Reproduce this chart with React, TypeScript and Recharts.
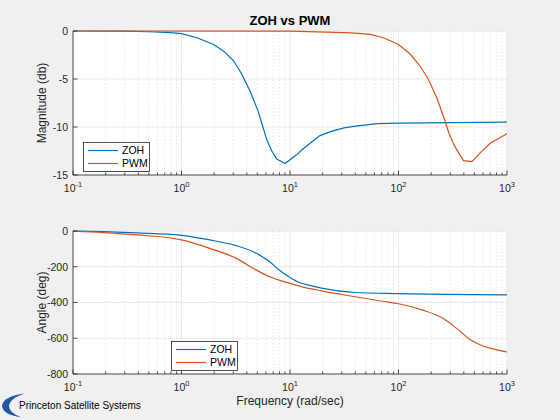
import { LineChart, Line, XAxis, YAxis, CartesianGrid, Legend } from "recharts"

const font = '"Liberation Sans", Arial, Helvetica, sans-serif'
const axisColor = "#262626"
const zohColor = "#0072BD"
const pwmColor = "#D95319"

const seriesNames = ["ZOH", "PWM"]

// x axis: decades and the minor (2..9) ticks
const decades = [0.1, 1, 10, 100, 1000]
const decadeExp = ["-1", "0", "1", "2", "3"]
const minorFreqs = [
  0.2, 0.3, 0.4, 0.5, 0.6, 0.7, 0.8, 0.9,
  2, 3, 4, 5, 6, 7, 8, 9,
  20, 30, 40, 50, 60, 70, 80, 90,
  200, 300, 400, 500, 600, 700, 800, 900,
]
const allFreqTicks = [...decades, ...minorFreqs].sort((a, b) => a - b)

const magTicks = [0, -5, -10, -15]
const phaseTicks = [0, -200, -400, -600, -800]

// magnitude (db)
const zohMagFreq = [0.1, 0.3, 0.5, 0.79, 1, 1.39, 1.98, 2.45, 3.02, 3.6, 4.3, 5.1, 6.1, 6.8, 7.5, 9.0, 11.5, 13, 15.3, 18.9, 24, 31.5, 40, 64, 100, 1000]
const zohMag = [0, -0.02, -0.08, -0.17, -0.28, -0.7, -1.4, -2.1, -3.1, -4.5, -6.3, -8.4, -11.3, -12.5, -13.3, -13.8, -12.9, -12.35, -11.7, -10.9, -10.45, -10.1, -9.9, -9.65, -9.6, -9.5]

const pwmMagFreq = [0.1, 10, 31.5, 40, 54.8, 72.7, 100, 128, 158, 189, 226, 260, 289, 322, 358, 398, 475, 567, 700, 866, 1000]
const pwmMag = [0, -0.02, -0.17, -0.23, -0.35, -0.7, -1.4, -2.4, -3.65, -5.05, -7.0, -8.9, -10.5, -11.8, -12.7, -13.5, -13.6, -12.7, -11.7, -11.1, -10.7]

// phase (deg)
const zohPhaseFreq = [0.1, 0.19, 0.385, 1, 1.82, 3.2, 4.9, 6.5, 8.0, 10, 12.2, 14, 20, 40, 100, 1000]
const zohPhase = [0, -4, -11, -24, -50, -82, -125, -172, -220, -260, -288, -299, -321, -344, -350, -357]

const pwmPhaseFreq = [0.1, 0.19, 0.385, 1, 1.82, 3.2, 4.9, 6.5, 10, 12.2, 20, 40, 71, 100, 168, 259, 345, 456, 600, 795, 1000]
const pwmPhase = [-1, -9, -22, -50, -97, -153, -219, -256, -293, -308, -336, -368, -393, -407, -443, -490, -546, -607, -643, -664, -677]

const toRows = (fs: number[], ys: number[]) => fs.map((f, i) => ({ f, y: ys[i] }))

function BottomTick(props: any) {
  const { x, y, payload } = props
  const i = decades.indexOf(payload.value)
  const major = i >= 0
  return (
    <g>
      <line x1={x} x2={x} y1={y} y2={y - (major ? 4.5 : 2.5)} stroke={axisColor} strokeWidth={0.8} />
      {major && (
        <text x={x} y={y + 17} textAnchor="middle" fill={axisColor} fontSize={10.5} fontFamily={font}>
          10
          <tspan dy={-5} fontSize={7.5}>
            {decadeExp[i]}
          </tspan>
        </text>
      )}
    </g>
  )
}

function TopTick(props: any) {
  const { x, y, payload } = props
  const major = decades.indexOf(payload.value) >= 0
  return <line x1={x} x2={x} y1={y} y2={y + (major ? 4.5 : 2.5)} stroke={axisColor} strokeWidth={0.8} />
}

function LeftTick(props: any) {
  const { x, y, payload } = props
  return (
    <g>
      <line x1={x} x2={x + 4.5} y1={y} y2={y} stroke={axisColor} strokeWidth={0.8} />
      <text x={x - 5} y={y} dy="0.36em" textAnchor="end" fill={axisColor} fontSize={10.5} fontFamily={font}>
        {payload.value}
      </text>
    </g>
  )
}

function RightTick(props: any) {
  const { x, y } = props
  return <line x1={x} x2={x - 4.5} y1={y} y2={y} stroke={axisColor} strokeWidth={0.8} />
}

function LegendBox(props: any) {
  const payload = (props.payload || [])
    .slice()
    .sort((a: any, b: any) => seriesNames.indexOf(a.value) - seriesNames.indexOf(b.value))
  return (
    <svg width={67} height={30} style={{ display: "block" }}>
      <rect x={0.5} y={0.5} width={66} height={29} fill="#fff" stroke={axisColor} strokeWidth={0.8} />
      {payload.map((p: any, i: number) => (
        <g key={i}>
          <line x1={5} x2={35} y1={8.5 + i * 13} y2={8.5 + i * 13} stroke={p.color} strokeWidth={1.2} />
          <text x={39} y={8.5 + i * 13} dy="0.36em" fontSize={10.5} fill="#000" fontFamily={font}>
            {p.value}
          </text>
        </g>
      ))}
    </svg>
  )
}

type PanelProps = {
  top: number
  yDomain: [number, number]
  yTicks: number[]
  zoh: { f: number; y: number }[]
  pwm: { f: number; y: number }[]
  curve: "linear" | "monotone"
  legendLeft: number
  legendTop: number
  xAxisHeight: number
}

function Panel({ top, yDomain, yTicks, zoh, pwm, curve, legendLeft, legendTop, xAxisHeight }: PanelProps) {
  return (
    <div style={{ position: "absolute", left: 0, top, width: 560, height: 200 }}>
      <LineChart width={560} height={200} margin={{ top: 31, right: 53, bottom: 0, left: 0 }}>
        <CartesianGrid
          fill="#fff"
          stroke="#e3e3e3"
          strokeWidth={0.8}
          verticalValues={decades}
          horizontalValues={yTicks}
        />
        <CartesianGrid
          stroke="#d0d0d0"
          strokeWidth={0.7}
          strokeDasharray="1 2.5"
          horizontal={false}
          verticalValues={minorFreqs}
        />
        <XAxis
          dataKey="f"
          type="number"
          scale="log"
          domain={[0.1, 1000]}
          allowDataOverflow
          ticks={allFreqTicks}
          interval={0}
          tick={<BottomTick />}
          tickLine={false}
          tickSize={0}
          tickMargin={0}
          height={xAxisHeight}
          axisLine={{ stroke: axisColor, strokeWidth: 0.8 }}
        />
        <XAxis
          xAxisId="t"
          orientation="top"
          type="number"
          scale="log"
          domain={[0.1, 1000]}
          allowDataOverflow
          ticks={allFreqTicks}
          interval={0}
          tick={<TopTick />}
          tickLine={false}
          tickSize={0}
          tickMargin={0}
          height={0}
          axisLine={{ stroke: axisColor, strokeWidth: 0.8 }}
        />
        <YAxis
          type="number"
          domain={yDomain}
          ticks={yTicks}
          interval={0}
          width={73}
          tick={<LeftTick />}
          tickLine={false}
          tickSize={0}
          tickMargin={0}
          axisLine={{ stroke: axisColor, strokeWidth: 0.8 }}
        />
        <YAxis
          yAxisId="r"
          orientation="right"
          type="number"
          domain={yDomain}
          ticks={yTicks}
          interval={0}
          width={0}
          tick={<RightTick />}
          tickLine={false}
          tickSize={0}
          tickMargin={0}
          axisLine={{ stroke: axisColor, strokeWidth: 0.8 }}
        />
        <Legend
          layout="vertical"
          align="center"
          verticalAlign="middle"
          content={<LegendBox />}
          wrapperStyle={{ left: legendLeft, top: legendTop, width: "auto", height: "auto" }}
        />
        <Line
          data={zoh}
          dataKey="y"
          name="ZOH"
          type={curve}
          stroke={zohColor}
          strokeWidth={1.2}
          dot={false}
          isAnimationActive={false}
        />
        <Line
          data={pwm}
          dataKey="y"
          name="PWM"
          type={curve}
          stroke={pwmColor}
          strokeWidth={1.2}
          dot={false}
          isAnimationActive={false}
        />
      </LineChart>
    </div>
  )
}

export default function App() {
  return (
    <div style={{ position: "absolute", left: 0, top: 0, width: 560, height: 420, background: "#f0f0f0", fontFamily: font }}>
      <Panel
        top={0}
        yDomain={[-15, 0]}
        yTicks={magTicks}
        zoh={toRows(zohMagFreq, zohMag)}
        pwm={toRows(pwmMagFreq, pwmMag)}
        curve="linear"
        legendLeft={83}
        legendTop={142}
        xAxisHeight={25}
      />
      <Panel
        top={200}
        yDomain={[-800, 0]}
        yTicks={phaseTicks}
        zoh={toRows(zohPhaseFreq, zohPhase)}
        pwm={toRows(pwmPhaseFreq, pwmPhase)}
        curve="monotone"
        legendLeft={171}
        legendTop={141}
        xAxisHeight={26}
      />
      <svg width={560} height={420} style={{ position: "absolute", left: 0, top: 0, pointerEvents: "none" }}>
        <text x={290} y={25} textAnchor="middle" fontSize={13} fontWeight="bold" fill="#000" fontFamily={font}>
          ZOH vs PWM
        </text>
        <text transform="translate(46,103) rotate(-90)" textAnchor="middle" fontSize={12} fill={axisColor} fontFamily={font}>
          Magnitude (db)
        </text>
        <text transform="translate(46,302.5) rotate(-90)" textAnchor="middle" fontSize={12} fill={axisColor} fontFamily={font}>
          Angle (deg)
        </text>
        <text x={290} y={405} textAnchor="middle" fontSize={12} fill={axisColor} fontFamily={font}>
          Frequency (rad/sec)
        </text>
        <path d="M 25 393.5 Q 3 396 2 406 Q 3 415 21 417 Q 9 413 9 406 Q 10 398 25 393.5 Z" fill="#1f58a6" />
        <text x={19} y={409} fontSize={10} fill="#000" fontFamily={font}>
          Princeton Satellite Systems
        </text>
      </svg>
    </div>
  )
}
